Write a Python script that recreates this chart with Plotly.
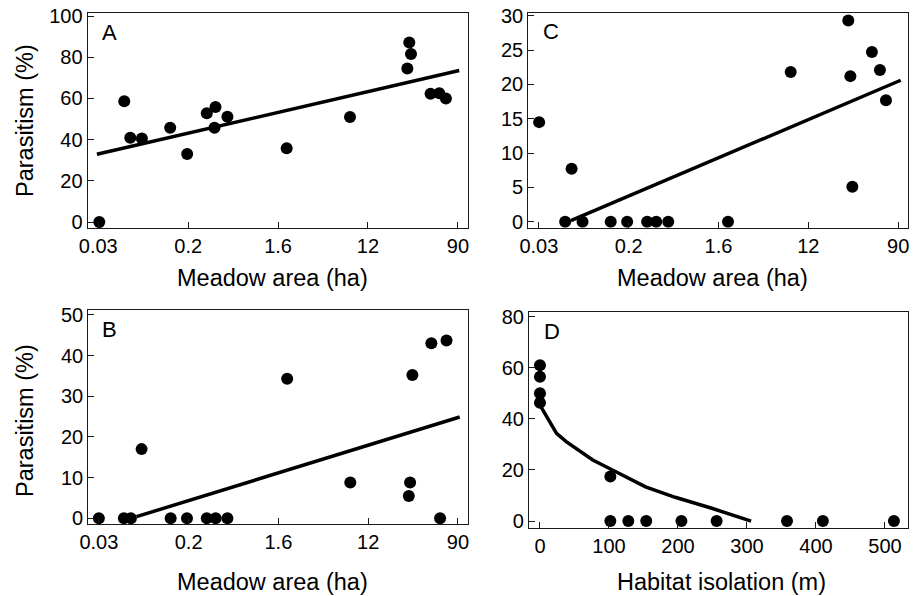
import plotly.graph_objects as go

# ---------------- data ----------------
# Panel A: parasitism (%) vs meadow area (ha)
a_area = [0.0307, 0.0535, 0.0612, 0.0792, 0.1488, 0.2172, 0.336, 0.408, 0.399, 0.532,
          1.99, 8.15, 30.5, 31.7, 29.2, 49.0, 59.5, 68.9]
a_par = [0.0, 58.7, 40.9, 40.6, 45.8, 33.0, 52.8, 55.8, 45.8, 51.1,
         35.8, 51.0, 87.2, 81.6, 74.6, 62.3, 62.5, 60.0]
a_fit_area = [0.0291, 92.7]
a_fit_par = [32.9, 73.6]

# Panel B
b_area = [0.030, 0.0524, 0.0613, 0.0778, 0.1488, 0.2142, 0.333, 0.406, 0.527,
          2.00, 8.17, 30.1, 31.0, 32.6, 49.8, 60.5, 69.8]
b_par = [0.0, 0.0, 0.0, 17.0, 0.0, 0.0, 0.0, 0.0, 0.0,
         34.3, 8.8, 5.5, 8.8, 35.2, 43.0, 0.0, 43.7]
b_fit_area = [0.0695, 93.7]
b_fit_par = [0.4, 24.9]

# Panel C
c_area = [0.0302, 0.0539, 0.0622, 0.0794, 0.1488, 0.2146, 0.335, 0.410, 0.536,
          2.03, 8.20, 29.6, 31.0, 32.4, 50.1, 59.9, 68.5]
c_par = [14.5, 0.0, 7.7, 0.0, 0.0, 0.0, 0.0, 0.0, 0.0,
         0.0, 21.8, 29.3, 21.2, 5.1, 24.7, 22.1, 17.7]
c_fit_area = [0.0612, 95.2]
c_fit_par = [0.15, 20.6]

# Panel D: parasitism (%) vs habitat isolation (m)
d_iso = [0, 0, 0, 0, 102, 102, 128, 154, 205, 256, 358, 410, 513]
d_par = [61.0, 56.5, 50.0, 46.3, 17.4, 0.0, 0.0, 0.0, 0.0, 0.0, 0.0, 0.0, 0.0]
d_fit_iso = [0, 24, 38, 76.5, 110, 153, 196, 249, 306]
d_fit_par = [45.4, 34.3, 31.1, 23.9, 19.3, 13.4, 9.3, 5.0, 0.0]

# tick labels
area_tick_text = ["0.03", "0.2", "1.6", "12", "90"]
area_ratio = 3000 ** 0.25
area_tick_vals = [0.03 * area_ratio ** k for k in range(5)]
a_yticks = [0, 20, 40, 60, 80, 100]
b_yticks = [0, 10, 20, 30, 40, 50]
c_yticks = [0, 5, 10, 15, 20, 25, 30]
d_yticks = [0, 20, 40, 60, 80]
d_xticks = [0, 100, 200, 300, 400, 500]

FONT = "Liberation Sans, Arial, Helvetica, sans-serif"
W, H = 919, 596

fig = go.Figure()

def add_panel(x, y, fx, fy, ax):
    xa = "x" if ax == 1 else f"x{ax}"
    ya = "y" if ax == 1 else f"y{ax}"
    fig.add_trace(go.Scatter(x=fx, y=fy, mode="lines", xaxis=xa, yaxis=ya,
                             line=dict(color="black", width=3.5), showlegend=False,
                             hoverinfo="skip"))
    fig.add_trace(go.Scatter(x=x, y=y, mode="markers", xaxis=xa, yaxis=ya,
                             marker=dict(color="black", size=12), showlegend=False))

add_panel(a_area, a_par, a_fit_area, a_fit_par, 1)
add_panel(c_area, c_par, c_fit_area, c_fit_par, 2)
add_panel(b_area, b_par, b_fit_area, b_fit_par, 3)
add_panel(d_iso, d_par, d_fit_iso, d_fit_par, 4)

def px_dom_x(l, r):
    return [l / W, r / W]

def px_dom_y(t, b):
    return [1 - b / H, 1 - t / H]

common = dict(showline=True, mirror=True, linecolor="#1a1a1a", linewidth=1.2,
              ticks="inside", ticklen=6, tickwidth=1.2, tickcolor="#1a1a1a",
              showgrid=False, zeroline=False, automargin=False,
              tickfont=dict(family=FONT, size=20, color="black"))

log_range = [-1.625, 2.052]
area_x = dict(type="log", range=log_range, tickmode="array",
              tickvals=area_tick_vals, ticktext=area_tick_text, **common)

fig.update_layout(
    template="none",
    width=W, height=H,
    margin=dict(l=0, r=0, t=0, b=0, pad=0, autoexpand=False),
    paper_bgcolor="white", plot_bgcolor="white",
    font=dict(family=FONT, color="black"),
    xaxis=dict(domain=px_dom_x(87.7, 468), anchor="y", **area_x),
    yaxis=dict(domain=px_dom_y(13, 228), anchor="x", range=[-2.9, 101.5],
               tickmode="array", tickvals=a_yticks, **common),
    xaxis2=dict(domain=px_dom_x(528.3, 908.3), anchor="y2", **area_x),
    yaxis2=dict(domain=px_dom_y(13.3, 227.7), anchor="x2", range=[-0.874, 30.35],
                tickmode="array", tickvals=c_yticks, **common),
    xaxis3=dict(domain=px_dom_x(88.3, 468), anchor="y3", **area_x),
    yaxis3=dict(domain=px_dom_y(310, 524.3), anchor="x3", range=[-1.48, 51.2],
                tickmode="array", tickvals=b_yticks, **common),
    xaxis4=dict(domain=px_dom_x(529, 908.3), anchor="y4", range=[-15.9, 533.8],
                tickmode="array", tickvals=d_xticks, **common),
    yaxis4=dict(domain=px_dom_y(311.7, 527.7), anchor="x4", range=[-2.6, 81.96],
                tickmode="array", tickvals=d_yticks, **common),
)

def ann(text, xpx, ypx, size, angle=0):
    fig.add_annotation(text=text, x=xpx / W, y=1 - ypx / H, xref="paper", yref="paper",
                       showarrow=False, textangle=angle, xanchor="center", yanchor="middle",
                       font=dict(family=FONT, size=size, color="black"))

ann("Meadow area (ha)", 272.5, 278, 23.5)
ann("Meadow area (ha)", 712.5, 278, 23.5)
ann("Meadow area (ha)", 272.5, 582, 23.5)
ann("Habitat isolation (m)", 721.7, 582, 23.5)
ann("Parasitism (%)", 25, 121, 23.5, -90)
ann("Parasitism (%)", 25, 421, 23.5, -90)
ann("A", 109, 33, 22)
ann("C", 550.7, 31.7, 22)
ann("B", 109.3, 329, 22)
ann("D", 551.7, 331.7, 22)

fig.write_html("out.html", config={"displayModeBar": False},
               post_script="document.body.style.margin='0';document.body.style.padding='0';")
